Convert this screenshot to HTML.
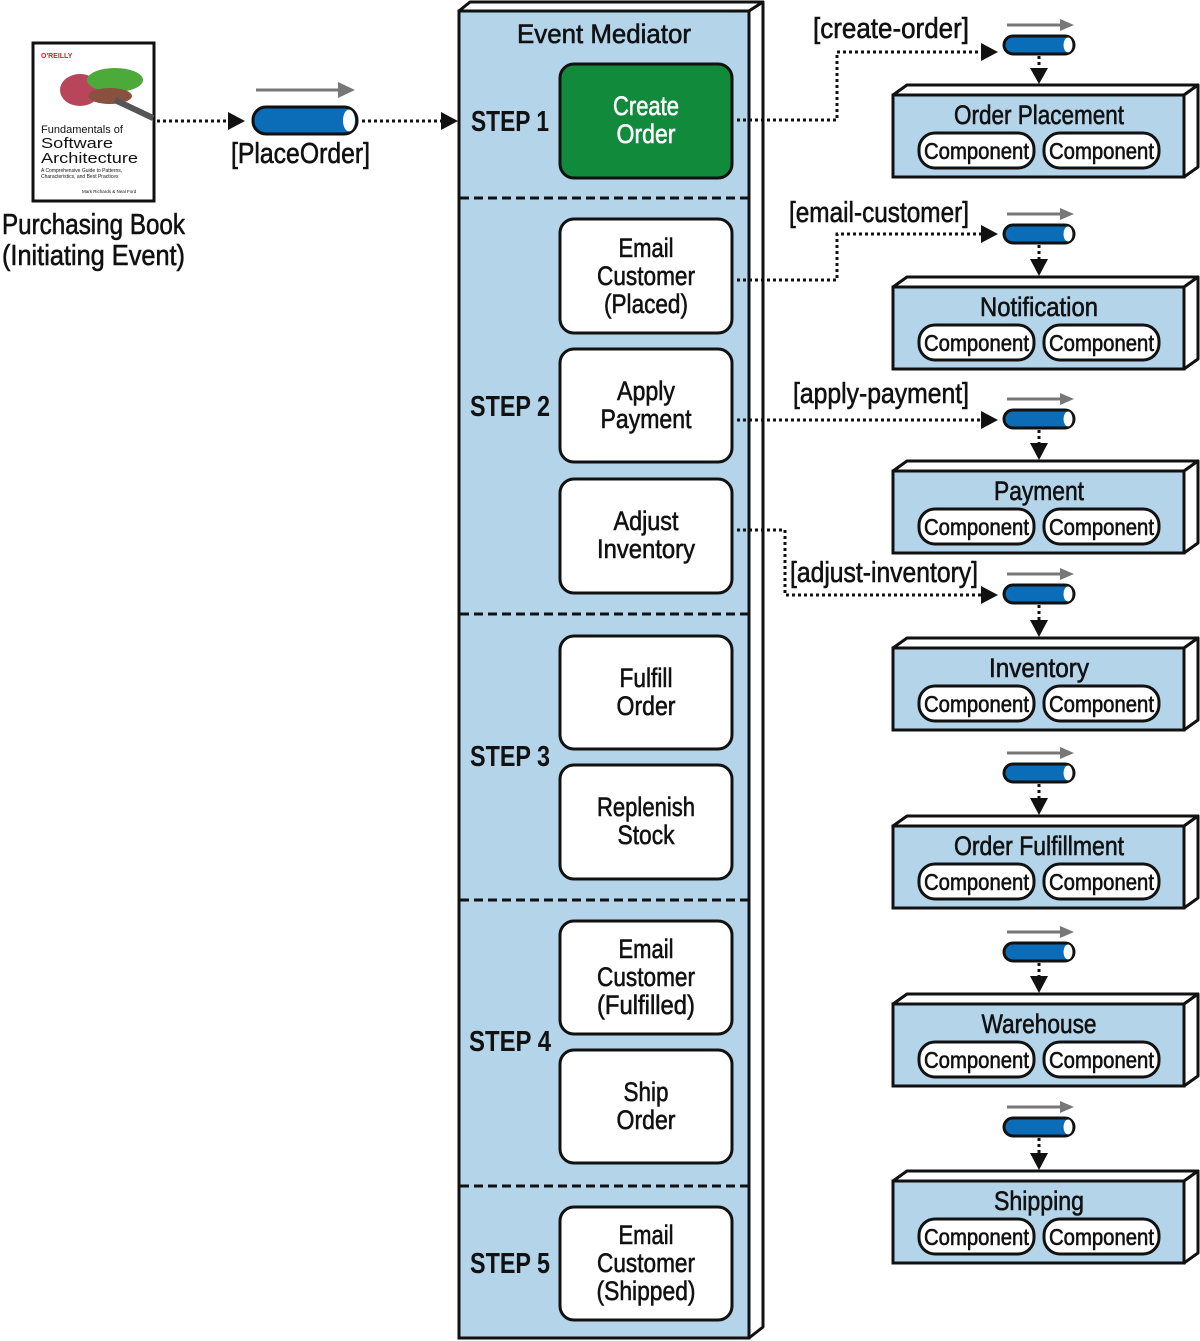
<!DOCTYPE html>
<html><head><meta charset="utf-8"><style>
html,body{margin:0;padding:0;background:#fff}
svg{display:block}
text{font-family:"Liberation Sans Narrow","Liberation Sans",sans-serif;fill:#111}
.b,.dt,.cp,.lb{stroke:#111;stroke-width:0.6}
.b{font-size:27px;text-anchor:middle}
.st{font-size:29px;font-weight:bold;text-anchor:middle}
.dt{font-size:27px;text-anchor:middle}
.cp{font-size:23px;text-anchor:middle}
.lb{font-size:29px}
.dot{stroke:#111;stroke-width:3;stroke-dasharray:3 3;fill:none}
.dash{stroke:#111;stroke-width:3;stroke-dasharray:9 5;fill:none}
</style></head><body>
<svg width="1200" height="1341" viewBox="0 0 1200 1341" xmlns="http://www.w3.org/2000/svg">
<defs>
<g id="queue"><rect x="1004" y="-9" width="70" height="18" rx="9" fill="#0b6cb8" stroke="#111" stroke-width="3"/><ellipse cx="1068" cy="0" rx="4.5" ry="7.5" fill="#fff"/><line x1="1007" y1="-20" x2="1062" y2="-20" stroke="#777" stroke-width="3"/><polygon points="1060,-26 1074,-20 1060,-14" fill="#777"/></g>
<g id="dom"><polygon points="893,10 907,0 1198,0 1184,10" fill="#fff" stroke="#111" stroke-width="3" stroke-linejoin="round"/><polygon points="1184,10 1198,0 1198,82 1184,92" fill="#fff" stroke="#111" stroke-width="3" stroke-linejoin="round"/><rect x="893" y="10" width="291" height="82" fill="#b4d4ea" stroke="#111" stroke-width="3"/><rect x="919" y="48" width="115" height="35" rx="16" fill="#fff" stroke="#111" stroke-width="3"/><rect x="1044" y="48" width="115" height="35" rx="16" fill="#fff" stroke="#111" stroke-width="3"/><text class="cp" x="976.5" y="74" textLength="105" lengthAdjust="spacingAndGlyphs">Component</text><text class="cp" x="1101.5" y="74" textLength="105" lengthAdjust="spacingAndGlyphs">Component</text></g>
</defs>

<!-- book -->
<rect x="33" y="43" width="121" height="158" fill="#fff" stroke="#111" stroke-width="3"/>
<text x="41" y="58" style="font-size:7px;fill:#d3202f;font-weight:bold">O'REILLY</text>
<ellipse cx="80" cy="90" rx="20" ry="16" fill="#b8455a"/>
<ellipse cx="115" cy="80" rx="28" ry="12" fill="#4caa3a"/>
<ellipse cx="110" cy="96" rx="22" ry="8" fill="#8a5040"/>
<line x1="115" y1="100" x2="153" y2="118" stroke="#555" stroke-width="6"/>
<text x="41" y="133" style="font-size:11px">Fundamentals of</text>
<text x="41" y="148" style="font-size:15px" textLength="72" lengthAdjust="spacingAndGlyphs">Software</text>
<text x="41" y="163" style="font-size:15px" textLength="97" lengthAdjust="spacingAndGlyphs">Architecture</text>
<text x="41" y="172" style="font-size:5px">A Comprehensive Guide to Patterns,</text>
<text x="41" y="178" style="font-size:5px">Characteristics, and Best Practices</text>
<text x="82" y="193" style="font-size:4.5px">Mark Richards &amp; Neal Ford</text>
<text x="2" y="234" class="lb" textLength="183" lengthAdjust="spacingAndGlyphs">Purchasing Book</text>
<text x="2" y="265" class="lb" textLength="183" lengthAdjust="spacingAndGlyphs">(Initiating Event)</text>

<!-- placeorder -->
<line x1="157" y1="121" x2="228" y2="121" class="dot"/>
<polygon points="228,112 245,121 228,130" fill="#111"/>
<line x1="256" y1="90" x2="342" y2="90" stroke="#777" stroke-width="3"/>
<polygon points="338,82 355,90 338,98" fill="#777"/>
<rect x="253" y="107" width="104" height="27" rx="13" fill="#0b6cb8" stroke="#111" stroke-width="3"/>
<ellipse cx="349" cy="120.5" rx="6" ry="11" fill="#fff"/>
<text x="231" y="163" class="lb" textLength="139" lengthAdjust="spacingAndGlyphs">[PlaceOrder]</text>
<line x1="362" y1="121" x2="441" y2="121" class="dot"/>
<polygon points="441,112 458,121 441,130" fill="#111"/>

<!-- mediator -->
<polygon points="459,11 470,2 763,2 749,11" fill="#fff" stroke="#111" stroke-width="3" stroke-linejoin="round"/>
<polygon points="749,11 763,2 763,1327 749,1338" fill="#fff" stroke="#111" stroke-width="3" stroke-linejoin="round"/>
<rect x="459" y="11" width="290" height="1327" fill="#b4d4ea" stroke="#111" stroke-width="3"/>
<text class="dt" x="604" y="43" textLength="174" lengthAdjust="spacingAndGlyphs">Event Mediator</text>
<line x1="460" y1="198" x2="748" y2="198" class="dash"/>
<line x1="460" y1="614" x2="748" y2="614" class="dash"/>
<line x1="460" y1="900" x2="748" y2="900" class="dash"/>
<line x1="460" y1="1186" x2="748" y2="1186" class="dash"/>
<text class="st" x="510" y="131" textLength="78" lengthAdjust="spacingAndGlyphs">STEP 1</text>
<text class="st" x="510" y="416" textLength="80" lengthAdjust="spacingAndGlyphs">STEP 2</text>
<text class="st" x="510" y="766" textLength="80" lengthAdjust="spacingAndGlyphs">STEP 3</text>
<text class="st" x="510" y="1051" textLength="82" lengthAdjust="spacingAndGlyphs">STEP 4</text>
<text class="st" x="510" y="1273" textLength="80" lengthAdjust="spacingAndGlyphs">STEP 5</text>

<rect x="560" y="64" width="172" height="114" rx="14" fill="#118a3c" stroke="#111" stroke-width="3"/>
<text class="b" x="646" y="115" textLength="66" lengthAdjust="spacingAndGlyphs" style="fill:#fff;stroke:#fff">Create</text>
<text class="b" x="646" y="143" textLength="59" lengthAdjust="spacingAndGlyphs" style="fill:#fff;stroke:#fff">Order</text>

<rect x="560" y="219" width="172" height="114" rx="14" fill="#fff" stroke="#111" stroke-width="3"/>
<text class="b" x="646" y="257" textLength="55" lengthAdjust="spacingAndGlyphs">Email</text>
<text class="b" x="646" y="285" textLength="98" lengthAdjust="spacingAndGlyphs">Customer</text>
<text class="b" x="646" y="313" textLength="84" lengthAdjust="spacingAndGlyphs">(Placed)</text>

<rect x="560" y="349" width="172" height="113" rx="14" fill="#fff" stroke="#111" stroke-width="3"/>
<text class="b" x="646" y="400" textLength="58" lengthAdjust="spacingAndGlyphs">Apply</text>
<text class="b" x="646" y="428" textLength="91" lengthAdjust="spacingAndGlyphs">Payment</text>

<rect x="560" y="479" width="172" height="114" rx="14" fill="#fff" stroke="#111" stroke-width="3"/>
<text class="b" x="646" y="530" textLength="65" lengthAdjust="spacingAndGlyphs">Adjust</text>
<text class="b" x="646" y="558" textLength="98" lengthAdjust="spacingAndGlyphs">Inventory</text>

<rect x="560" y="636" width="172" height="113" rx="14" fill="#fff" stroke="#111" stroke-width="3"/>
<text class="b" x="646" y="687" textLength="53" lengthAdjust="spacingAndGlyphs">Fulfill</text>
<text class="b" x="646" y="715" textLength="59" lengthAdjust="spacingAndGlyphs">Order</text>

<rect x="560" y="765" width="172" height="114" rx="14" fill="#fff" stroke="#111" stroke-width="3"/>
<text class="b" x="646" y="816" textLength="98" lengthAdjust="spacingAndGlyphs">Replenish</text>
<text class="b" x="646" y="844" textLength="57" lengthAdjust="spacingAndGlyphs">Stock</text>

<rect x="560" y="921" width="172" height="113" rx="14" fill="#fff" stroke="#111" stroke-width="3"/>
<text class="b" x="646" y="958" textLength="55" lengthAdjust="spacingAndGlyphs">Email</text>
<text class="b" x="646" y="986" textLength="98" lengthAdjust="spacingAndGlyphs">Customer</text>
<text class="b" x="646" y="1014" textLength="98" lengthAdjust="spacingAndGlyphs">(Fulfilled)</text>

<rect x="560" y="1050" width="172" height="113" rx="14" fill="#fff" stroke="#111" stroke-width="3"/>
<text class="b" x="646" y="1101" textLength="45" lengthAdjust="spacingAndGlyphs">Ship</text>
<text class="b" x="646" y="1129" textLength="59" lengthAdjust="spacingAndGlyphs">Order</text>

<rect x="560" y="1207" width="172" height="113" rx="14" fill="#fff" stroke="#111" stroke-width="3"/>
<text class="b" x="646" y="1244" textLength="55" lengthAdjust="spacingAndGlyphs">Email</text>
<text class="b" x="646" y="1272" textLength="98" lengthAdjust="spacingAndGlyphs">Customer</text>
<text class="b" x="646" y="1300" textLength="99" lengthAdjust="spacingAndGlyphs">(Shipped)</text>

<!-- connectors -->
<polyline points="737,120 837,120 837,52 983,52" class="dot"/>
<polygon points="981,43 998,52 981,61" fill="#111"/>
<text class="lb" x="813" y="38" textLength="156" lengthAdjust="spacingAndGlyphs">[create-order]</text>

<polyline points="737,280 837,280 837,234 983,234" class="dot"/>
<polygon points="981,225 998,234 981,243" fill="#111"/>
<text class="lb" x="789" y="222" textLength="180" lengthAdjust="spacingAndGlyphs">[email-customer]</text>

<polyline points="737,420 983,420" class="dot"/>
<polygon points="981,411 998,420 981,429" fill="#111"/>
<text class="lb" x="793" y="403" textLength="176" lengthAdjust="spacingAndGlyphs">[apply-payment]</text>

<polyline points="737,530 785,530 785,595 983,595" class="dot"/>
<polygon points="981,586 998,595 981,604" fill="#111"/>
<text class="lb" x="790" y="582" textLength="188" lengthAdjust="spacingAndGlyphs">[adjust-inventory]</text>

<!-- queues + domains -->
<use href="#queue" y="45"/><line x1="1039" y1="56" x2="1039" y2="68" class="dot"/><polygon points="1030,68 1048,68 1039,84" fill="#111"/>
<use href="#dom" y="85"/><text class="dt" x="1039" y="124" textLength="170" lengthAdjust="spacingAndGlyphs">Order Placement</text>

<use href="#queue" y="234"/><line x1="1039" y1="245" x2="1039" y2="259" class="dot"/><polygon points="1030,259 1048,259 1039,276" fill="#111"/>
<use href="#dom" y="277"/><text class="dt" x="1039" y="316" textLength="118" lengthAdjust="spacingAndGlyphs">Notification</text>

<use href="#queue" y="419"/><line x1="1039" y1="430" x2="1039" y2="443" class="dot"/><polygon points="1030,443 1048,443 1039,460" fill="#111"/>
<use href="#dom" y="461"/><text class="dt" x="1039" y="500" textLength="90" lengthAdjust="spacingAndGlyphs">Payment</text>

<use href="#queue" y="594"/><line x1="1039" y1="605" x2="1039" y2="620" class="dot"/><polygon points="1030,620 1048,620 1039,637" fill="#111"/>
<use href="#dom" y="638"/><text class="dt" x="1039" y="677" textLength="100" lengthAdjust="spacingAndGlyphs">Inventory</text>

<use href="#queue" y="773"/><line x1="1039" y1="784" x2="1039" y2="798" class="dot"/><polygon points="1030,798 1048,798 1039,815" fill="#111"/>
<use href="#dom" y="816"/><text class="dt" x="1039" y="855" textLength="170" lengthAdjust="spacingAndGlyphs">Order Fulfillment</text>

<use href="#queue" y="952"/><line x1="1039" y1="963" x2="1039" y2="976" class="dot"/><polygon points="1030,976 1048,976 1039,993" fill="#111"/>
<use href="#dom" y="994"/><text class="dt" x="1039" y="1033" textLength="115" lengthAdjust="spacingAndGlyphs">Warehouse</text>

<use href="#queue" y="1127"/><line x1="1039" y1="1138" x2="1039" y2="1153" class="dot"/><polygon points="1030,1153 1048,1153 1039,1170" fill="#111"/>
<use href="#dom" y="1171"/><text class="dt" x="1039" y="1210" textLength="90" lengthAdjust="spacingAndGlyphs">Shipping</text>
</svg>
</body></html>
